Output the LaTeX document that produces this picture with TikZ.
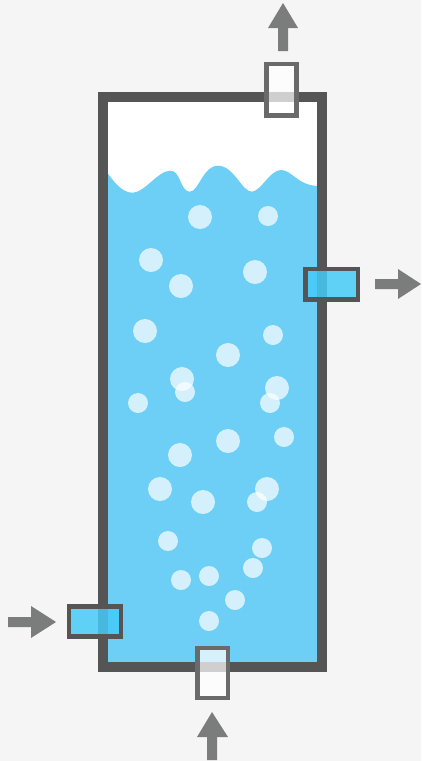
\documentclass[tikz,border=0pt]{standalone}
\definecolor{bgc}{HTML}{F5F5F5}
\definecolor{wallc}{HTML}{555555}
\definecolor{waterc}{HTML}{6DCFF6}
\definecolor{arrowc}{HTML}{7B7D7C}
\definecolor{nozc}{HTML}{6A6A6A}
\definecolor{cyanc}{HTML}{45CBF8}
\tikzset{
  bubble/.style={fill=white,fill opacity=.7,draw=none},
  bigb/.style={bubble,radius=12},
  smallb/.style={bubble,radius=10},
  wall/.style={draw=wallc,line width=10,line join=miter},
  gasnoz/.style={draw=nozc,line width=4.5,fill=white,fill opacity=.72},
  liqnoz/.style={draw=wallc,line width=4.5,fill=cyanc,fill opacity=.85},
  flow/.style={fill=arrowc,draw=none}
}
\begin{document}
\begin{tikzpicture}[x=1pt,y=-1pt]
\useasboundingbox (0,0) rectangle (421,761);
\fill[bgc] (0,0) rectangle (421,761);
% tank interior and water
\fill[white] (103,97) rectangle (322,667);
\fill[waterc] (106,171)
  .. controls (114,182) and (122,193) .. (133,192.7)
  .. controls (145,192) and (158,171) .. (170,170.7)
  .. controls (181,170) and (180,192) .. (190,191.7)
  .. controls (199,191) and (203,165.7) .. (218,165.7)
  .. controls (234,165.7) and (242,192) .. (252,191.7)
  .. controls (261,191) and (270,170) .. (281,170)
  .. controls (292,170) and (298,186) .. (319,186)
  -- (319,665) -- (106,665) -- cycle;
% bubbles
\foreach \px/\py in {200/217,151/260,181/286,255/272,145/331,228/355,182/379,277/388,228/441,180/455,160/489,203/502,267/489}
  \fill[bigb] (\px,\py) circle;
\foreach \px/\py in {268/216,273/335,185/392,270/403,138/403,284/437,257/502,168/541,262/548,253/568,209/576,181/580,235/600,209/621}
  \fill[smallb] (\px,\py) circle;
% wall
\draw[wall] (103,97) rectangle (322,667);
% nozzles
\draw[gasnoz] (266.3,64) rectangle (296.5,115.5);
\draw[gasnoz] (197.5,648) rectangle (228,698);
\draw[liqnoz] (305.3,269) rectangle (358,299.7);
\draw[liqnoz] (69,606.3) rectangle (121,636.7);
% flow arrows
\fill[flow] (283,3) -- (298,28) -- (288,28) -- (288,51) -- (278,51) -- (278,28) -- (268,28) -- cycle;
\fill[flow] (421,284) -- (398,269) -- (398,279) -- (375,279) -- (375,289) -- (398,289) -- (398,299) -- cycle;
\fill[flow] (56,622) -- (31,606) -- (31,617) -- (8,617) -- (8,627) -- (31,627) -- (31,638) -- cycle;
\fill[flow] (212,712) -- (228,737) -- (217,737) -- (217,760) -- (207,760) -- (207,737) -- (197,737) -- cycle;
\end{tikzpicture}
\end{document}
